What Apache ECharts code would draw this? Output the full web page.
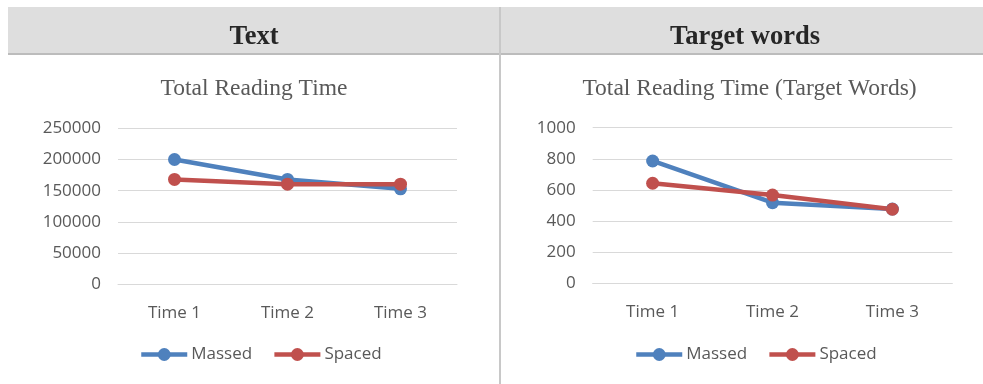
<!DOCTYPE html>
<html>
<head>
<meta charset="utf-8">
<script src="https://cdn.jsdelivr.net/npm/echarts@6/dist/echarts.min.js"></script>
<style>
  html, body { margin: 0; padding: 0; background: #ffffff; }
  #chart { width: 983px; height: 384px; }
</style>
</head>
<body>
<div id="chart"></div>
<script>
// Categories shared by both panels
const times = ['Time 1', 'Time 2', 'Time 3'];

// Left panel: total reading time for whole text
const textMassed = [200000, 168000, 153000];
const textSpaced = [168000, 160500, 160500];
const textTicks = { min: 0, max: 250000, interval: 50000 };

// Right panel: total reading time on target words
const targetMassed = [786, 518, 477];
const targetSpaced = [643, 567, 476];
const targetTicks = { min: 0, max: 1000, interval: 200 };

const headers = ['Text', 'Target words'];
const titles = ['Total Reading Time', 'Total Reading Time (Target Words)'];
const seriesNames = ['Massed', 'Spaced'];

const BLUE = '#4f81bd';
const RED = '#c0504d';
const LABEL = '#595959';
const GRID = '#d9d9d9';
const SANS = '"Open Sans", "Noto Sans", sans-serif';
const SERIF = '"Liberation Serif", "DejaVu Serif", serif';

const chart = echarts.init(document.getElementById('chart'), null, { renderer: 'canvas' });

function yAxis(ticks, idx) {
  return {
    type: 'value', gridIndex: idx,
    min: ticks.min, max: ticks.max, interval: ticks.interval,
    axisLine: { show: false }, axisTick: { show: false },
    axisLabel: { color: LABEL, fontFamily: SANS, fontSize: 17, margin: 17, formatter: v => String(v) },
    splitLine: { lineStyle: { color: GRID, width: 1 } }
  };
}
function xAxis(idx) {
  return {
    type: 'category', gridIndex: idx, data: times,
    axisLine: { lineStyle: { color: GRID, width: 1 } },
    axisTick: { show: false },
    axisLabel: { color: LABEL, fontFamily: SANS, fontSize: 17, margin: 20 }
  };
}
function line(name, color, data, idx) {
  return {
    name, type: 'line', xAxisIndex: idx, yAxisIndex: idx, data,
    symbol: 'circle', symbolSize: 13,
    lineStyle: { color, width: 4.5 },
    itemStyle: { color },
    animation: false
  };
}
function legend(left) {
  return {
    data: seriesNames, left, top: 341,
    itemWidth: 46, itemHeight: 16, itemGap: 20,
    lineStyle: { width: 4.5 },
    textStyle: { color: LABEL, fontFamily: SANS, fontSize: 17, padding: [0, 0, 0, -1] }
  };
}

chart.setOption({
  animation: false,
  grid: [
    { left: 118, right: 526, top: 128.3, bottom: 99.7 },
    { left: 592.7, right: 30.7, top: 127.7, bottom: 100.7 }
  ],
  xAxis: [xAxis(0), xAxis(1)],
  yAxis: [yAxis(textTicks, 0), yAxis(targetTicks, 1)],
  legend: [legend(134), legend(629)],
  series: [
    line(seriesNames[0], BLUE, textMassed, 0),
    line(seriesNames[1], RED, textSpaced, 0),
    line(seriesNames[0], BLUE, targetMassed, 1),
    line(seriesNames[1], RED, targetSpaced, 1)
  ],
  graphic: [
    // header band with panel captions
    { type: 'rect', z: -10, shape: { x: 8, y: 7, width: 975, height: 47 }, style: { fill: '#dedede' } },
    { type: 'line', z: -9, shape: { x1: 8, y1: 54, x2: 983, y2: 54 }, style: { stroke: '#bcbcbc', lineWidth: 2 } },
    { type: 'line', z: -8, shape: { x1: 500, y1: 7, x2: 500, y2: 384 }, style: { stroke: '#c8c8c8', lineWidth: 2 } },
    { type: 'text', x: 254, y: 37, style: { text: headers[0], fill: '#262626', font: 'bold 26.5px ' + SERIF, textAlign: 'center', textVerticalAlign: 'middle' } },
    { type: 'text', x: 745, y: 37, style: { text: headers[1], fill: '#262626', font: 'bold 26.5px ' + SERIF, textAlign: 'center', textVerticalAlign: 'middle' } },
    // chart titles
    { type: 'text', x: 254, y: 89, style: { text: titles[0], fill: LABEL, font: '23.5px ' + SERIF, textAlign: 'center', textVerticalAlign: 'middle' } },
    { type: 'text', x: 749.5, y: 89, style: { text: titles[1], fill: LABEL, font: '23.5px ' + SERIF, textAlign: 'center', textVerticalAlign: 'middle' } }
  ]
});
</script>
</body>
</html>
